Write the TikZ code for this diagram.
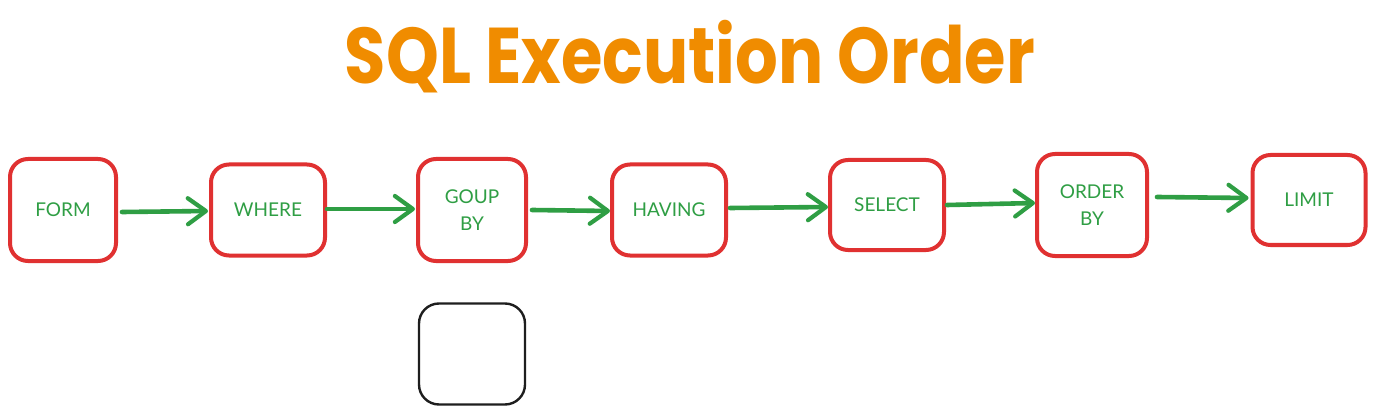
\documentclass[tikz,border=0pt]{standalone}
\usepackage{fontspec}
\setmainfont{Lato}
\newfontfamily\titlefont{Poppins}
\usetikzlibrary{arrows.meta,calc}
\definecolor{boxred}{HTML}{E03131}
\definecolor{txtgreen}{HTML}{2F9E44}
\definecolor{titleorange}{HTML}{F08C00}
\definecolor{inkblack}{HTML}{1E1E1E}
\tikzset{
  stepbox/.style={draw=boxred, line width=4pt, rounded corners=18pt, fill=white,
    text=txtgreen, align=center, font=\fontsize{19}{27}\selectfont, inner sep=0pt},
  emptybox/.style={draw=inkblack, line width=2.4pt, rounded corners=20pt, fill=white},
  flow/.style={draw=txtgreen, line width=4.6pt, line cap=round,
    -{Straight Barb[length=18pt, width=26pt, line width=4.2pt, round]}},
}
\begin{document}
\begin{tikzpicture}[x=1pt, y=-1pt]
\useasboundingbox[fill=white] (0,0) rectangle (1376,414);
\node[text=titleorange, font=\titlefont\bfseries\fontsize{79}{84}\selectfont, anchor=base, inner sep=0pt] (title) at (690,84) {\scalebox{0.85}[1]{SQL Execution Order}};
\node[stepbox, minimum width=106pt, minimum height=102pt] (form) at (63,210) {FORM};
\node[stepbox, minimum width=114pt, minimum height=91pt] (where) at (268,210) {WHERE};
\node[stepbox, minimum width=108pt, minimum height=102pt] (group) at (472,210) {GOUP\\BY};
\node[stepbox, minimum width=114pt, minimum height=91pt] (having) at (669,210) {HAVING};
\node[stepbox, minimum width=114pt, minimum height=90pt] (select) at (887,205) {SELECT};
\node[stepbox, minimum width=110pt, minimum height=102pt] (order) at (1092,205) {ORDER\\BY};
\node[stepbox, minimum width=113pt, minimum height=90pt] (limit) at (1309,200) {LIMIT};
\node[emptybox, minimum width=106pt, minimum height=101pt] (blank) at (472,354) {};
\draw[flow] ($(form.east)+(4,2)$) -- ($(where.west)+(-1,1)$);
\draw[flow] ($(where.east)+(0,-1)$) -- ($(group.west)+(-1,-1)$);
\draw[flow] ($(group.east)+(4,0)$) -- ($(having.west)+(0,1)$);
\draw[flow] ($(having.east)+(2,-2)$) -- ($(select.west)+(0,2)$);
\draw[flow] ($(select.east)+(1,0)$) -- ($(order.west)+(0,-2)$);
\draw[flow] ($(order.east)+(8,-8)$) -- ($(limit.west)+(-2,-2)$);
\end{tikzpicture}
\end{document}
